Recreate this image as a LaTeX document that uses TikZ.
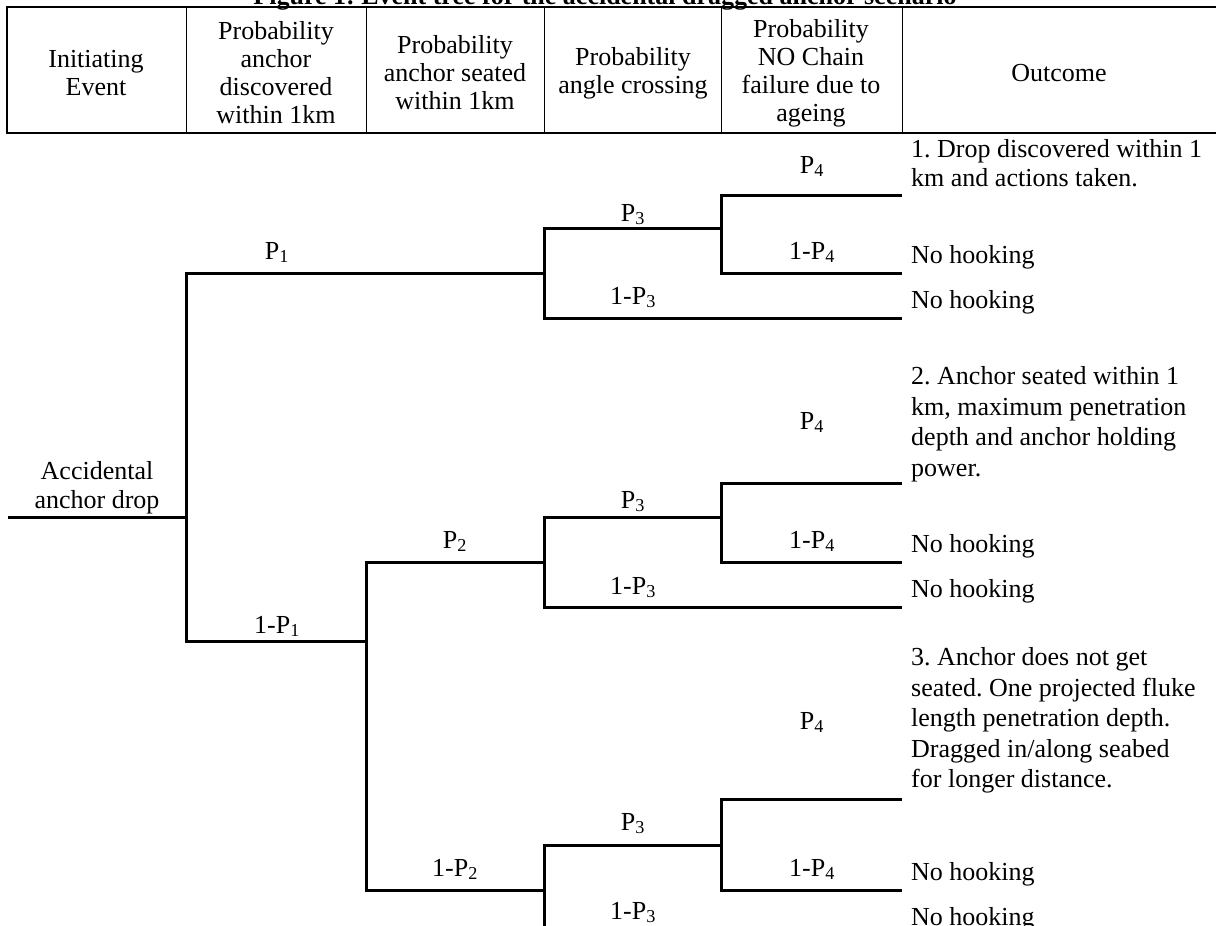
\documentclass[tikz,border=0pt]{standalone}
\usepackage{fontspec}
\setmainfont{Liberation Serif}
\frenchspacing

\tikzset{
  branch/.style={line width=3pt},
  prob/.style={anchor=base, inner sep=0pt},
  colhead/.style={align=center, inner sep=0pt, font=\fontsize{26}{28}\selectfont},
  outcome/.style={anchor=north west, align=left, inner sep=0pt},
  nohook/.style={anchor=base west, inner sep=0pt},
}

\begin{document}
\begin{tikzpicture}[x=1pt, y=-1pt, font=\fontsize{26}{30.5}\selectfont]
        \useasboundingbox (0,0) rectangle (1216,926);
        % title, cut by the top edge
        \node[anchor=base, font=\fontsize{26}{30}\selectfont\bfseries] (title) at (605,5)
            {Figure 1: Event tree for the accidental dragged anchor scenario};
        % header table, with column titles
        \draw[line width=2.5pt] (1216,7) -- (7,7) -- (7,133) -- (1216,133);
        \draw[line width=1pt] (186,7) -- (186,133);
        \draw[line width=1pt] (366,7) -- (366,133);
        \draw[line width=1pt] (544,7) -- (544,133);
        \draw[line width=1pt] (721,7) -- (721,133);
        \draw[line width=1pt] (902,7) -- (902,133);
        \node[colhead] (hinit) at (96,73) {Initiating\\Event};
        \node[colhead] (hfound) at (276,73) {Probability\\anchor\\discovered\\within 1km};
        \node[colhead] (hseat) at (455,73) {Probability\\anchor seated\\within 1km};
        \node[colhead] (hangle) at (633,73) {Probability\\angle crossing};
        \node[colhead] (hchain) at (811,73) {Probability\\NO Chain\\failure due to\\ageing};
        \node[colhead] (hout) at (1059,73) {Outcome};
        % initiating event, with label
        \coordinate (root) at (8,517);
        \coordinate (s1) at (186,517);
        \node[anchor=north, align=center, inner sep=0pt, font=\fontsize{26}{29}\selectfont]
            (init) at (97,461) {Accidental\\anchor drop};
        % anchor discovered or not
        \coordinate (a1) at (544,273);
        \coordinate (b1) at (366,641);
        \draw[branch] (root) -- (s1) |- (a1);
        \draw[branch] (s1) |- (b1);
        \node[prob] (lp1) at (277,259) {P\textsubscript{1}};
        \node[prob] (lq1) at (277,633) {1-P\textsubscript{1}};
        % anchor seated or not
        \coordinate (b2) at (544,562);
        \coordinate (b3) at (544,890);
        \draw[branch] (b1) |- (b2);
        \draw[branch] (b1) |- (b3);
        \node[prob] (lp2) at (455,548) {P\textsubscript{2}};
        \node[prob] (lq2) at (455,876) {1-P\textsubscript{2}};
        % first group: angle crossing and chain ageing
        \coordinate (g1c) at (721,228);
        \coordinate (g1n3) at (902,318);
        \coordinate (g1p4) at (902,195);
        \coordinate (g1n4) at (902,273);
        \draw[branch] (a1) |- (g1c) |- (g1p4);
        \draw[branch] (a1) |- (g1n3);
        \draw[branch] (g1c) |- (g1n4);
        \node[prob] (g1lp3) at (633,221) {P\textsubscript{3}};
        \node[prob] (g1lq3) at (633,304) {1-P\textsubscript{3}};
        \node[prob] (g1lp4) at (812,173) {P\textsubscript{4}};
        \node[prob] (g1lq4) at (812,259) {1-P\textsubscript{4}};
        % second group
        \coordinate (g2c) at (721,517);
        \coordinate (g2n3) at (902,607);
        \coordinate (g2p4) at (902,483);
        \coordinate (g2n4) at (902,562);
        \draw[branch] (b2) |- (g2c) |- (g2p4);
        \draw[branch] (b2) |- (g2n3);
        \draw[branch] (g2c) |- (g2n4);
        \node[prob] (g2lp3) at (633,508) {P\textsubscript{3}};
        \node[prob] (g2lq3) at (633,594) {1-P\textsubscript{3}};
        \node[prob] (g2lp4) at (812,429) {P\textsubscript{4}};
        \node[prob] (g2lq4) at (812,548) {1-P\textsubscript{4}};
        % third group, last branch runs off the bottom edge
        \coordinate (g3c) at (721,845);
        \coordinate (g3n3) at (902,935);
        \coordinate (g3p4) at (902,799);
        \coordinate (g3n4) at (902,890);
        \draw[branch] (b3) |- (g3c) |- (g3p4);
        \draw[branch] (b3) |- (g3n3);
        \draw[branch] (g3c) |- (g3n4);
        \node[prob] (g3lp3) at (633,830) {P\textsubscript{3}};
        \node[prob] (g3lq3) at (633,919) {1-P\textsubscript{3}};
        \node[prob] (g3lp4) at (812,729) {P\textsubscript{4}};
        \node[prob] (g3lq4) at (812,876) {1-P\textsubscript{4}};
        % outcomes
        \node[outcome] (out1) at (911,139.5) {1. Drop discovered within 1\\[-2pt]km and actions taken.};
        \node[outcome] (out2) at (911,366.5) {2. Anchor seated within 1\\km, maximum penetration\\depth and anchor holding\\power.};
        \node[outcome] (out3) at (911,647.5) {3. Anchor does not get\\seated. One projected fluke\\length penetration depth.\\Dragged in/along seabed\\for longer distance.};
        \node[nohook] (h1) at (911,263) {No hooking};
        \node[nohook] (h2) at (911,308) {No hooking};
        \node[nohook] (h3) at (911,552) {No hooking};
        \node[nohook] (h4) at (911,597) {No hooking};
        \node[nohook] (h5) at (911,880) {No hooking};
        \node[nohook] (h6) at (911,925) {No hooking};
    \end{tikzpicture}
\end{document}
